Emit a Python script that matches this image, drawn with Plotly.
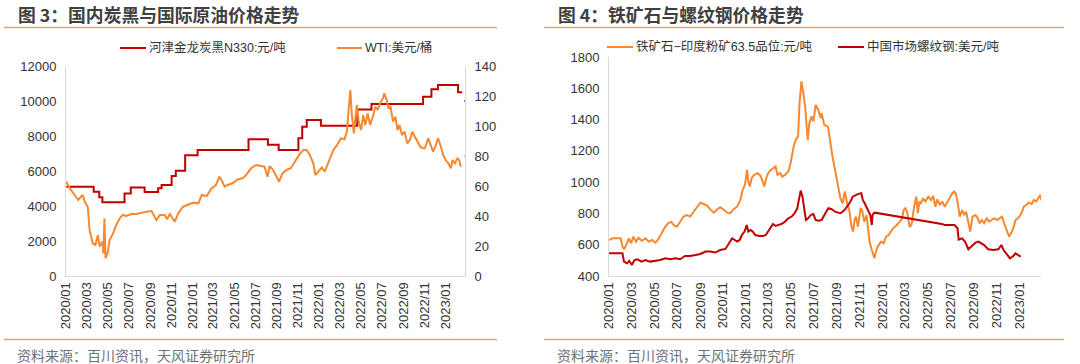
import plotly.graph_objects as go

# ---------------- Figure 3 data ----------------
cb_dates = ['2020-01-02', '2020-03-21', '2020-04-06', '2020-04-15', '2020-06-18', '2020-07-06',
            '2020-08-15', '2020-09-23', '2020-10-03', '2020-11-01', '2020-11-13', '2020-12-10',
            '2021-01-15', '2021-06-11', '2021-08-06', '2021-09-06', '2021-11-02', '2021-11-13',
            '2021-11-26', '2022-01-06', '2022-04-21', '2022-06-01', '2022-10-28', '2022-11-21',
            '2022-12-10', '2023-02-06', '2023-02-18', '2023-02-21', '2023-02-23', '2023-02-25']
cb_values = [5100, 4820, 4500, 4210, 4720, 5050,
             4800, 5010, 5200, 5710, 6020, 6900,
             7200, 7810, 7500, 7200, 7870, 8530,
             8910, 8590, 9520, 9830, 10250, 10670,
             10910, 10500, 10500, None, 10000, 10000]

wti_dates = ['2020-01-02', '2020-01-12', '2020-01-26', '2020-02-05', '2020-02-18', '2020-02-24',
             '2020-03-04', '2020-03-09', '2020-03-18', '2020-03-26', '2020-04-02', '2020-04-07',
             '2020-04-15', '2020-04-18', '2020-04-21', '2020-04-24', '2020-05-01', '2020-05-06',
             '2020-05-16', '2020-05-25', '2020-06-04', '2020-06-13', '2020-06-23', '2020-07-08',
             '2020-07-22', '2020-08-06', '2020-08-20', '2020-09-04', '2020-09-12', '2020-09-18',
             '2020-09-28', '2020-10-12', '2020-10-19', '2020-10-27', '2020-11-10', '2020-11-20',
             '2020-12-04', '2020-12-19', '2021-01-03', '2021-01-17', '2021-01-27', '2021-02-10',
             '2021-02-24', '2021-03-09', '2021-03-19', '2021-03-25', '2021-04-03', '2021-04-12',
             '2021-04-26', '2021-05-10', '2021-05-25', '2021-06-04', '2021-06-18', '2021-07-03',
             '2021-07-18', '2021-07-27', '2021-08-05', '2021-08-11', '2021-08-21', '2021-08-28',
             '2021-09-07', '2021-09-17', '2021-09-29', '2021-10-11', '2021-10-23', '2021-11-04',
             '2021-11-16', '2021-11-26', '2021-12-05', '2021-12-15', '2021-12-21', '2022-01-01',
             '2022-01-09', '2022-01-17', '2022-01-28', '2022-02-11', '2022-02-20', '2022-03-05',
             '2022-03-15', '2022-03-22', '2022-03-27', '2022-04-01', '2022-04-05', '2022-04-11',
             '2022-04-16', '2022-04-20', '2022-04-25', '2022-05-02', '2022-05-08', '2022-05-14',
             '2022-05-21', '2022-05-28', '2022-06-05', '2022-06-12', '2022-06-19', '2022-06-26',
             '2022-07-04', '2022-07-08', '2022-07-15', '2022-07-20', '2022-07-26', '2022-08-02',
             '2022-08-09', '2022-08-15', '2022-08-21', '2022-08-28', '2022-09-05', '2022-09-12',
             '2022-09-20', '2022-09-27', '2022-10-04', '2022-10-11', '2022-10-21', '2022-11-02',
             '2022-11-12', '2022-11-19', '2022-11-26', '2022-12-03', '2022-12-10', '2022-12-18',
             '2022-12-25', '2023-01-01', '2023-01-09', '2023-01-16', '2023-01-21', '2023-01-28',
             '2023-02-04', '2023-02-09', '2023-02-14', '2023-02-19', '2023-02-23', '2023-02-25']
wti_values = [62.9, 58.4, 54.0, 50.7, 54.0, 49.6,
              46.0, 30.7, 21.8, 20.7, 27.3, 19.6,
              22.9, 15.0, 38.4, 11.8, 16.2, 24.0,
              28.4, 34.0, 38.4, 40.7, 40.0, 41.3,
              41.3, 42.2, 42.9, 43.3, 39.6, 37.3,
              40.7, 40.7, 37.8, 41.3, 36.2, 41.8,
              46.2, 47.3, 48.9, 48.4, 54.0, 53.3,
              58.4, 60.7, 66.2, 64.0, 59.6, 60.7,
              61.8, 64.4, 65.1, 67.3, 71.8, 74.0,
              73.5, 72.9, 66.2, 73.3, 70.7, 67.3,
              62.9, 68.4, 70.7, 71.8, 76.2, 80.7,
              84.0, 84.0, 80.7, 75.1, 67.3, 70.7,
              72.4, 69.6, 76.2, 84.0, 86.7, 91.8,
              91.1, 96.2, 110.7, 124.0, 108.4, 95.1,
              106.2, 114.0, 102.9, 97.3, 107.3, 100.7,
              108.4, 100.7, 106.2, 112.9, 110.7, 115.1,
              118.4, 121.8, 117.3, 111.6, 113.0, 102.9,
              106.2, 97.3, 100.7, 94.0, 96.2, 88.4,
              90.7, 96.2, 93.0, 89.6, 85.8, 85.1,
              91.8, 87.3, 82.9, 86.7, 91.8, 86.7,
              80.7, 77.3, 75.1, 71.8, 77.3, 75.1,
              78.4, 77.3, 72.9, None, 79.6, 79.6]

# ---------------- Figure 4 data ----------------
ore_dates = ['2020-01-01', '2020-01-10', '2020-02-01', '2020-02-06', '2020-02-10', '2020-02-16',
             '2020-02-23', '2020-02-29', '2020-03-06', '2020-03-13', '2020-03-20', '2020-03-29',
             '2020-04-07', '2020-04-16', '2020-04-25', '2020-05-04', '2020-05-12', '2020-05-21',
             '2020-05-30', '2020-06-09', '2020-06-16', '2020-06-22', '2020-06-30', '2020-07-09',
             '2020-07-18', '2020-07-27', '2020-08-05', '2020-08-14', '2020-08-23', '2020-09-01',
             '2020-09-10', '2020-09-19', '2020-09-28', '2020-10-07', '2020-10-15', '2020-10-24',
             '2020-11-03', '2020-11-12', '2020-11-20', '2020-11-29', '2020-12-08', '2020-12-17',
             '2020-12-23', '2020-12-29', '2021-01-04', '2021-01-07', '2021-01-11', '2021-01-16',
             '2021-01-22', '2021-02-01', '2021-02-09', '2021-02-15', '2021-02-19', '2021-02-24',
             '2021-03-01', '2021-03-08', '2021-03-14', '2021-03-21', '2021-03-26', '2021-04-02',
             '2021-04-08', '2021-04-15', '2021-04-24', '2021-04-30', '2021-05-05', '2021-05-09',
             '2021-05-16', '2021-05-20', '2021-05-24', '2021-05-29', '2021-06-03', '2021-06-08',
             '2021-06-12', '2021-06-15', '2021-06-19', '2021-06-25', '2021-06-30', '2021-07-06',
             '2021-07-13', '2021-07-20', '2021-07-22', '2021-07-29', '2021-08-08', '2021-08-14',
             '2021-08-20', '2021-08-27', '2021-09-03', '2021-09-10', '2021-09-16', '2021-09-22',
             '2021-09-28', '2021-10-04', '2021-10-09', '2021-10-14', '2021-10-18', '2021-10-22',
             '2021-10-27', '2021-11-03', '2021-11-07', '2021-11-13', '2021-11-19', '2021-11-23',
             '2021-11-27', '2021-12-03', '2021-12-10', '2021-12-15', '2021-12-21', '2021-12-28',
             '2022-01-04', '2022-01-10', '2022-01-17', '2022-01-23', '2022-01-29', '2022-02-05',
             '2022-02-12', '2022-02-18', '2022-02-22', '2022-02-26', '2022-03-03', '2022-03-08',
             '2022-03-14', '2022-03-19', '2022-03-26', '2022-04-01', '2022-04-05', '2022-04-09',
             '2022-04-13', '2022-04-19', '2022-04-25', '2022-05-03', '2022-05-10', '2022-05-16',
             '2022-05-22', '2022-05-27', '2022-06-03', '2022-06-09', '2022-06-16', '2022-06-23',
             '2022-06-30', '2022-07-06', '2022-07-11', '2022-07-16', '2022-07-22', '2022-07-26',
             '2022-08-01', '2022-08-07', '2022-08-12', '2022-08-18', '2022-08-23', '2022-08-29',
             '2022-09-06', '2022-09-12', '2022-09-17', '2022-09-23', '2022-09-29', '2022-10-06',
             '2022-10-13', '2022-10-19', '2022-10-26', '2022-11-03', '2022-11-10', '2022-11-16',
             '2022-11-23', '2022-11-29', '2022-12-05', '2022-12-10', '2022-12-16', '2022-12-22',
             '2022-12-29', '2023-01-07', '2023-01-13', '2023-01-19', '2023-01-26', '2023-02-03',
             '2023-02-09', '2023-02-15', '2023-02-21', '2023-02-26', '2023-02-28']
ore_values = [630, 641, 641, 588, 571, 598,
              641, 609, 652, 620, 645, 624,
              641, 620, 630, 613, 635, 677,
              715, 741, 745, 724, 715, 747,
              780, 790, 780, 811, 843, 869,
              860, 850, 824, 805, 824, 840,
              824, 805, 801, 827, 843, 886,
              950, 982, 1078, 1004, 972, 1025,
              1046, 1057, 1040, 1004, 972, 1025,
              1057, 1078, 1089, 1100, 1046, 1057,
              1035, 1046, 1068, 1121, 1185, 1238,
              1281, 1290, 1505, 1644, 1569, 1484,
              1355, 1270, 1377, 1420, 1388, 1494,
              1462, 1409, 1441, 1366, 1355, 1249,
              1164, 1078, 993, 897, 865, 940,
              865, 822, 726, 684, 758, 780,
              715, 833, 822, 747, 790, 694,
              620, 566, 513, 566, 598, 620,
              609, 652, 662, 684, 705, 720,
              737, 754, 769, 822, 833, 801,
              715, 726, 843, 907, 801, 876,
              865, 897, 876, 907, 886, 912,
              843, 890, 854, 876, 843, 876,
              907, 929, 940, 925, 843, 780,
              822, 790, 811, 737, 684, 780,
              790, 769, 737, 758, 737, 769,
              747, 758, 769, 758, 769, 780,
              726, 684, 652, 673, 705, 758,
              769, 801, 843, 854, 869, 860,
              886, 876, 897, 918, 885]

rebar_dates = ['2020-01-01', '2020-02-06', '2020-02-10', '2020-02-18', '2020-02-24', '2020-03-02',
               '2020-03-09', '2020-03-17', '2020-03-28', '2020-04-07', '2020-04-20', '2020-05-04',
               '2020-05-17', '2020-05-30', '2020-06-13', '2020-06-26', '2020-07-09', '2020-07-22',
               '2020-08-05', '2020-08-19', '2020-09-01', '2020-09-15', '2020-09-28', '2020-10-11',
               '2020-10-24', '2020-11-07', '2020-11-16', '2020-11-25', '2020-12-02', '2020-12-08',
               '2020-12-15', '2020-12-21', '2020-12-28', '2021-01-03', '2021-01-07', '2021-01-13',
               '2021-01-19', '2021-01-26', '2021-02-05', '2021-02-15', '2021-02-23', '2021-03-01',
               '2021-03-08', '2021-03-14', '2021-03-21', '2021-03-28', '2021-04-06', '2021-04-15',
               '2021-04-24', '2021-05-03', '2021-05-11', '2021-05-18', '2021-05-23', '2021-05-27',
               '2021-06-01', '2021-06-06', '2021-06-10', '2021-06-16', '2021-06-23', '2021-06-30',
               '2021-07-06', '2021-07-13', '2021-07-22', '2021-08-01', '2021-08-09', '2021-08-18',
               '2021-08-27', '2021-09-04', '2021-09-10', '2021-09-16', '2021-09-23', '2021-10-01',
               '2021-10-07', '2021-10-13', '2021-10-20', '2021-10-28', '2021-11-05', '2021-11-09',
               '2021-11-14', '2021-11-20', '2021-11-25', '2021-11-29', '2021-12-03', '2021-12-05',
               '2021-12-08', '2021-12-11', '2022-06-08', '2022-06-16', '2022-07-12', '2022-07-20',
               '2022-07-23', '2022-08-01', '2022-08-09', '2022-08-18', '2022-08-26', '2022-09-06',
               '2022-09-14', '2022-09-21', '2022-09-29', '2022-10-10', '2022-10-23', '2022-11-06',
               '2022-11-14', '2022-11-20', '2022-11-28', '2022-12-07', '2022-12-16', '2022-12-22',
               '2022-12-29', '2023-01-05']
rebar_values = [545, 545, 492, 481, 497, 470,
                502, 507, 492, 502, 492, 497,
                502, 513, 507, 513, 507, 528,
                528, 534, 541, 556, 556, 550,
                566, 573, 609, 641, 630, 620,
                630, 662, 684, 726, 684, 694,
                684, 662, 656, 656, 662, 684,
                715, 733, 720, 726, 733, 747,
                769, 780, 801, 833, 886, 946,
                906, 811, 758, 769, 790, 796,
                758, 754, 758, 801, 833, 827,
                811, 805, 801, 811, 827, 854,
                876, 907, 918, 925, 929, 886,
                865, 833, 811, 790, 726, 790,
                801, 805, 733, 726, 726, 705,
                633, 641, 620, 571, 588, 613,
                620, 609, 598, 571, 566, 571,
                598, 566, 541, 513, 528, 545,
                534, 524]

tick_dates = ['2020-01-01', '2020-03-01', '2020-05-01', '2020-07-01', '2020-09-01', '2020-11-01',
              '2021-01-01', '2021-03-01', '2021-05-01', '2021-07-01', '2021-09-01', '2021-11-01',
              '2022-01-01', '2022-03-01', '2022-05-01', '2022-07-01', '2022-09-01', '2022-11-01',
              '2023-01-01']
tick_labels = ['2020/01', '2020/03', '2020/05', '2020/07', '2020/09', '2020/11',
               '2021/01', '2021/03', '2021/05', '2021/07', '2021/09', '2021/11',
               '2022/01', '2022/03', '2022/05', '2022/07', '2022/09', '2022/11',
               '2023/01']

# ---------------- styling ----------------
W, H = 1080, 364
RED = '#C00000'
ORANGE = '#F7882F'
RULE = '#F4A25A'
AXIS = '#D9D9D9'
TXT = '#333333'
FONT = 'Liberation Sans, Arial, Noto Sans CJK SC, sans-serif'
CJK = 'Noto Sans CJK SC, Liberation Sans, sans-serif'


def px(x):
    return x / W


def py(y):
    return 1 - y / H


fig = go.Figure()

fig.add_trace(go.Scatter(x=cb_dates, y=cb_values, mode='lines', line=dict(color=RED, width=2, shape='hv'),
                         xaxis='x', yaxis='y', connectgaps=False, showlegend=False))
fig.add_trace(go.Scatter(x=wti_dates, y=wti_values, mode='lines', line=dict(color=ORANGE, width=2),
                         xaxis='x', yaxis='y2', connectgaps=False, showlegend=False))
fig.add_trace(go.Scatter(x=ore_dates, y=ore_values, mode='lines', line=dict(color=ORANGE, width=2),
                         xaxis='x2', yaxis='y3', showlegend=False))
fig.add_trace(go.Scatter(x=rebar_dates, y=rebar_values, mode='lines', line=dict(color=RED, width=2),
                         xaxis='x2', yaxis='y3', showlegend=False))

tickfont = dict(family=FONT, size=13, color=TXT)
xcommon = dict(type='date', tickmode='array', tickvals=tick_dates, ticktext=tick_labels,
               tickangle=-90, showgrid=False, zeroline=False, showline=True, linecolor=AXIS,
               linewidth=1, ticks='', tickfont=tickfont, automargin=False)
ycommon = dict(showgrid=False, zeroline=False, showline=True, linecolor=AXIS, linewidth=1,
               ticks='', tickfont=tickfont, ticklabelstandoff=6, automargin=False,
               tickformat='d')

fig.update_layout(
    template='none',
    width=W, height=H, autosize=False,
    margin=dict(l=0, r=0, t=0, b=0, pad=0),
    paper_bgcolor='white', plot_bgcolor='white',
    xaxis=dict(domain=[px(66), px(465)], range=['2020-01-01', '2023-02-26'], anchor='y', **xcommon),
    yaxis=dict(domain=[py(276), py(66)], range=[0, 12000], dtick=2000, tick0=0, anchor='x', **ycommon),
    yaxis2=dict(overlaying='y', side='right', anchor='x', range=[0, 140], dtick=20, tick0=0, **ycommon),
    xaxis2=dict(domain=[px(609), px(1041)], range=['2020-01-01', '2023-02-28'], anchor='y3', **xcommon),
    yaxis3=dict(domain=[py(276), py(57)], range=[400, 1800], dtick=200, tick0=400, anchor='x2', **ycommon),
)

shapes = []
annotations = []

# title rules and source rules
for x0, x1 in [(4, 497), (544, 1064)]:
    shapes.append(dict(type='line', xref='paper', yref='paper', x0=px(x0), x1=px(x1),
                       y0=py(27.5), y1=py(27.5), line=dict(color=RULE, width=1.5)))
    shapes.append(dict(type='line', xref='paper', yref='paper', x0=px(x0), x1=px(x1),
                       y0=py(339.5), y1=py(339.5), line=dict(color=RULE, width=1.5)))

titles = [(16, '图 3：国内炭黑与国际原油价格走势'), (556, '图 4：铁矿石与螺纹钢价格走势')]
for x, t in titles:
    annotations.append(dict(xref='paper', yref='paper', x=px(x), y=py(14), xanchor='left', yanchor='middle',
                            text='<b>' + t + '</b>', showarrow=False,
                            font=dict(family=CJK, size=17.8, color='#404040')))
for x in (15, 555):
    annotations.append(dict(xref='paper', yref='paper', x=px(x), y=py(355), xanchor='left', yanchor='middle',
                            text='资料来源：百川资讯，天风证券研究所', showarrow=False,
                            font=dict(family=CJK, size=14, color='#707070')))

legends = [(120, 146, RED, '河津金龙炭黑N330:元/吨', 48),
           (337, 362, ORANGE, 'WTI:美元/桶', 48),
           (607, 633, ORANGE, '铁矿石−印度粉矿63.5品位:元/吨', 47),
           (838, 864, RED, '中国市场螺纹钢:美元/吨', 47)]
for x0, x1, c, label, y in legends:
    shapes.append(dict(type='line', xref='paper', yref='paper', x0=px(x0), x1=px(x1),
                       y0=py(y), y1=py(y), line=dict(color=c, width=2)))
    annotations.append(dict(xref='paper', yref='paper', x=px(x1 + 1), y=py(y), xanchor='left',
                            yanchor='middle', text=label, showarrow=False,
                            font=dict(family=FONT, size=12.5, color=TXT)))

fig.update_layout(shapes=shapes, annotations=annotations)

fig.write_html('out.html', config={'displayModeBar': False},
               post_script="document.body.style.margin='0';document.body.style.overflow='hidden';")
